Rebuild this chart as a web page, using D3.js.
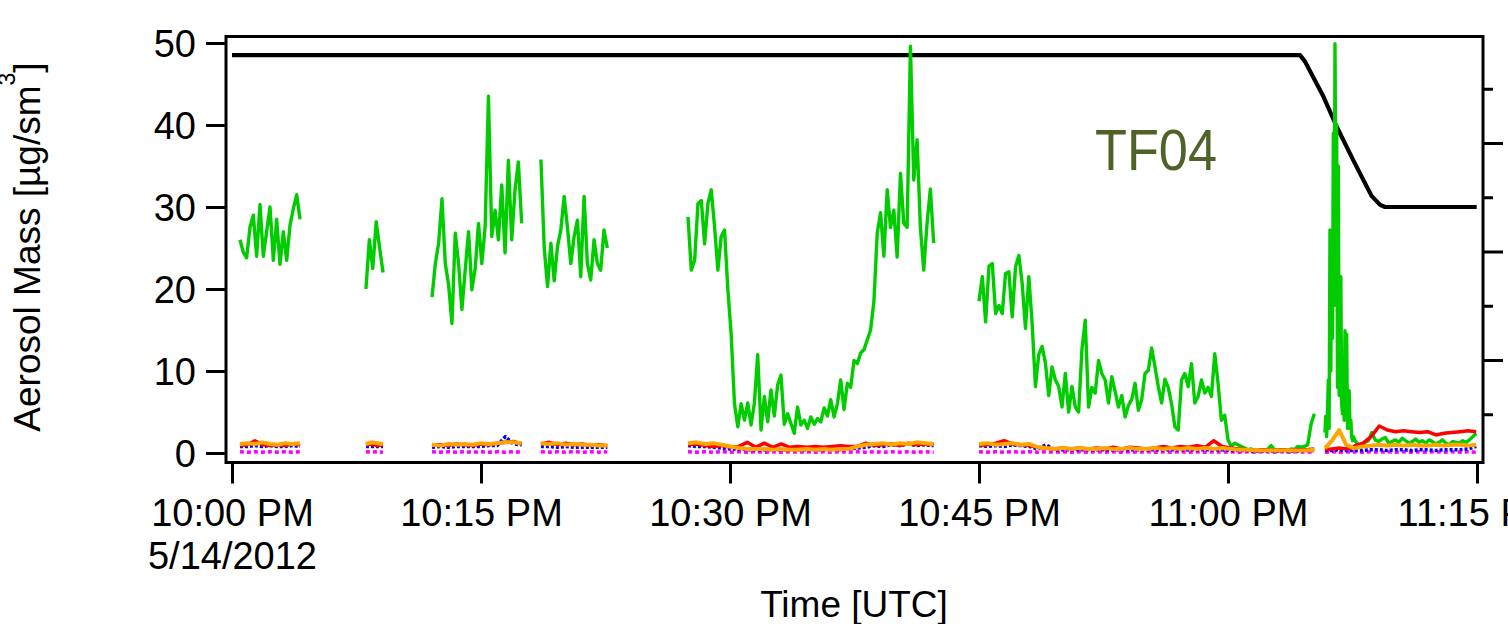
<!DOCTYPE html>
<html>
<head>
<meta charset="utf-8">
<script src="https://cdn.jsdelivr.net/npm/d3@7"></script>
<style>
  html, body { margin: 0; padding: 0; background: #fff; overflow: hidden; }
  svg { display: block; }
  text { font-family: "Liberation Sans", Arial, sans-serif; fill: #000; }
</style>
</head>
<body>
<svg id="chart" width="1508" height="624"></svg>
<script>
// Flight TF04, 14 May 2012. Times are minutes after 22:00 UTC.
// Each sampling run has a start and end time; the values of a run are
// evenly spaced between them.
const runStart = [0.48, 8.07, 12.05, 18.61, 27.47, 45.0, 65.84, 67.65];
const runEnd   = [4.10, 9.10, 17.45, 22.61, 42.27, 65.2, 67.55, 74.95];

// Organic aerosol mass [µg/sm³]
const greenRuns = [
  [26.0, 24.5, 23.8, 27.5, 29.0, 24.0, 30.3, 24.0, 27.0, 30.0, 23.5, 28.5, 23.0, 27.0, 23.5, 27.8, 29.8, 31.5, 28.5],
  [20.0, 26.0, 22.5, 28.2, 25.0, 22.0],
  [19.0, 23.1, 25.6, 31.0, 23.1, 20.5, 15.8, 26.8, 23.1, 17.5, 22.3, 27.0, 19.9, 22.5, 28.0, 23.1, 27.6, 43.5, 26.4, 29.6,
   26.0, 32.7, 24.4, 35.7, 26.0, 32.1, 35.5, 28.0],
  [35.8, 25.0, 20.3, 25.6, 21.0, 25.2, 27.2, 31.3, 27.5, 23.1, 26.4, 28.4, 21.5, 31.3, 23.1, 21.1, 26.0, 23.1, 22.3, 27.2, 25.0],
  [28.8, 22.3, 23.5, 30.4, 30.8, 25.5, 30.4, 32.1, 27.6, 22.3, 26.4, 27.2, 20.0, 14.5, 6.0, 3.2, 6.0, 4.0, 6.1, 3.4,
   6.1, 12.0, 2.8, 6.9, 3.8, 7.7, 4.5, 8.3, 9.5, 3.5, 4.8, 3.6, 2.4, 5.6, 3.4, 4.0, 3.0, 4.4, 3.5, 4.2,
   3.8, 5.5, 4.5, 6.5, 4.4, 6.0, 8.9, 5.3, 8.5, 8.0, 11.3, 10.9, 12.2, 12.6, 13.8, 15.0, 18.5, 26.8, 29.3, 24.0,
   32.1, 27.5, 29.6, 23.9, 34.1, 28.0, 27.5, 49.6, 33.3, 38.2, 27.5, 22.3, 28.0, 32.2, 25.6],
  [18.5, 21.5, 16.0, 22.8, 23.1, 17.0, 18.0, 17.0, 21.9, 22.1, 16.6, 22.7, 24.1, 20.7, 15.2, 21.5, 15.8, 8.1, 12.0, 13.0,
   11.0, 7.0, 10.5, 8.9, 8.1, 5.6, 9.7, 5.0, 8.1, 5.6, 5.0, 12.6, 16.2, 5.6, 8.0, 7.3, 11.3, 9.7, 8.9, 6.1,
   9.3, 7.5, 5.6, 7.0, 4.4, 5.8, 6.5, 8.5, 5.2, 6.5, 9.7, 10.1, 12.8, 10.5, 8.1, 6.1, 9.0, 8.0, 6.0, 3.2,
   2.8, 8.9, 9.7, 8.1, 10.9, 6.1, 6.9, 8.9, 7.3, 8.0, 6.9, 12.1, 8.5, 4.0, 4.6, 1.6, 0.8, 1.2, 1.0, 0.8,
   0.6, 0.4, 0.5, 0.3, 0.3, 0.4, 0.3, 0.5, 0.9, 0.4, 0.3, 0.3, 0.4, 0.3, 0.5, 0.4, 0.8, 0.7, 0.8, 1.0,
   3.5, 4.8],
  [2.5, 4.5, 2.0, 5.0, 8.9, 3.0, 27.2, 10.0, 26.5, 14.0, 39.0, 18.0, 49.9, 30.0, 40.0, 8.0, 35.0, 7.0, 10.8, 21.5,
   6.0, 4.8, 8.0, 4.0, 14.9, 5.0, 14.5, 3.0, 4.0, 7.6, 3.0, 4.0, 2.0, 1.5, 2.0],
  [1.5, 1.0, 0.9, 1.3, 1.5, 2.5, 1.6, 1.4, 1.7, 1.9, 1.2, 1.4, 1.6, 1.3, 1.8, 1.5, 1.2, 1.4, 1.7, 1.3,
   1.5, 1.2, 1.6, 1.4, 1.1, 1.3, 1.6, 1.2, 1.0, 1.4, 1.3, 1.2, 1.5, 1.3, 1.6, 2.0, 2.4]
];

// Sulfate
const redRuns = [
  [0.9, 1.0, 1.5, 1.0, 0.9, 1.0, 0.9, 1.1, 1.0],
  [1.0, 1.1, 0.9, 1.0],
  [0.9, 1.0, 0.9, 1.1, 1.0, 0.9, 1.1, 1.0, 1.2, 1.3, 1.4, 1.1],
  [1.1, 1.3, 1.0, 1.2, 1.0, 1.1, 0.9, 1.0, 0.9],
  [1.0, 1.1, 0.9, 0.8, 0.9, 0.7, 0.8, 1.3, 0.7, 1.2, 0.7, 1.1, 0.7, 0.8, 0.7, 0.8, 0.7, 0.8, 0.9, 0.8,
   0.8, 1.2, 0.9, 1.0, 1.1, 0.9, 1.2, 1.0, 1.1, 1.0],
  [0.9, 1.0, 1.2, 1.5, 1.1, 1.0, 0.9, 0.7, 0.6, 0.5, 0.6, 0.5, 0.6, 0.5, 0.6, 0.5, 0.7, 0.5, 0.7, 0.6,
   0.5, 0.6, 0.8, 0.6, 0.8, 0.7, 0.9, 0.7, 1.5, 0.8, 0.6, 0.5, 0.4, 0.3, 0.4, 0.3, 0.4, 0.3, 0.4, 0.4, 0.5],
  [0.4, 0.5, 0.6, 0.5, 0.7],
  [0.9, 1.2, 2.0, 3.3, 2.8, 2.6, 2.7, 2.6, 2.5, 2.6, 2.2, 2.4, 2.5, 2.6, 2.7, 2.6]
];

// Ammonium
const orangeRuns = [
  [1.1, 1.2, 1.1, 1.3, 1.1, 1.0, 1.2, 1.1, 1.2],
  [1.1, 1.3, 1.2, 1.1],
  [1.0, 0.9, 1.1, 1.0, 1.1, 1.0, 1.2, 1.1, 1.2, 1.3, 1.3, 1.2],
  [1.2, 1.1, 1.2, 1.0, 1.1, 1.0, 1.0, 0.9, 0.9],
  [1.2, 1.3, 1.1, 1.2, 1.0, 0.8, 0.6, 0.5, 0.5, 0.5, 0.4, 0.5, 0.4, 0.4, 0.5, 0.4, 0.5, 0.4, 0.5, 0.5,
   0.8, 1.0, 1.1, 1.2, 1.0, 1.2, 1.1, 1.3, 1.2, 1.1],
  [1.1, 1.2, 1.0, 1.1, 1.2, 1.0, 1.1, 0.7, 0.6, 0.5, 0.6, 0.5, 0.6, 0.5, 0.5, 0.6, 0.5, 0.5, 0.6, 0.5,
   0.5, 0.6, 0.5, 0.6, 0.5, 0.6, 0.5, 0.6, 0.5, 0.6, 0.5, 0.4, 0.4, 0.3, 0.3, 0.3, 0.3, 0.3, 0.3, 0.3, 0.4],
  [0.6, 1.5, 2.8, 1.0, 0.6],
  [0.6, 0.8, 0.9, 1.0, 0.9, 1.0, 0.9, 1.0, 0.9, 0.9, 1.0, 0.9, 1.0, 1.0, 0.9, 1.0]
];

// Nitrate
const blueRuns = [
  [0.8, 0.8, 0.9, 0.8, 0.9, 0.8, 0.8, 0.9, 0.8],
  [0.8, 0.8, 0.8, 0.8],
  [0.7, 0.8, 0.7, 0.8, 0.8, 0.8, 0.8, 0.9, 0.9, 2.0, 1.1, 1.0],
  [0.8, 0.8, 0.7, 0.8, 0.7, 0.7, 0.7, 0.7, 0.7],
  [0.9, 0.8, 0.8, 0.7, 0.6, 0.5, 0.5, 0.4, 0.4, 0.4, 0.4, 0.4, 0.4, 0.4, 0.4, 0.4, 0.4, 0.5, 0.4, 0.5,
   0.6, 0.7, 0.9, 0.8, 1.0, 0.9, 1.1, 0.9, 1.0, 0.9],
  [0.9, 0.8, 0.9, 0.8, 1.0, 0.9, 0.8, 0.5, 1.0, 0.4, 0.4, 0.4, 0.4, 0.4, 0.4, 0.4, 0.4, 0.4, 0.4, 0.4,
   0.4, 0.4, 0.4, 0.4, 0.4, 0.4, 0.4, 0.4, 0.4, 0.4, 0.3, 0.3, 0.3, 0.2, 0.2, 0.2, 0.2, 0.2, 0.2, 0.3, 0.3],
  [0.3, 0.3, 0.4, 0.3, 0.3],
  [0.3, 0.3, 0.4, 0.4, 0.3, 0.4, 0.4, 0.3, 0.4, 0.4, 0.3, 0.4, 0.4, 0.4, 0.5, 0.8]
];

// Chloride
const magentaRuns = [
  [0.15, 0.1, 0.15, 0.1, 0.15, 0.1, 0.15, 0.1, 0.15],
  [0.15, 0.1, 0.15, 0.1],
  [0.15, 0.1, 0.15, 0.1, 0.15, 0.1, 0.15, 0.1, 0.15, 0.1, 0.15, 0.1],
  [0.15, 0.1, 0.15, 0.1, 0.15, 0.1, 0.15, 0.1, 0.15],
  [0.15, 0.1, 0.15, 0.1, 0.15, 0.1, 0.15, 0.1, 0.15, 0.1, 0.15, 0.1, 0.15, 0.1, 0.15,
   0.1, 0.15, 0.1, 0.15, 0.1, 0.15, 0.1, 0.15, 0.1, 0.15, 0.1, 0.15, 0.1, 0.15, 0.1],
  [0.15, 0.1, 0.15, 0.1, 0.15, 0.1, 0.15, 0.1, 0.15, 0.1, 0.15, 0.1, 0.15, 0.1, 0.15, 0.1, 0.15, 0.1, 0.15, 0.1,
   0.15, 0.1, 0.15, 0.1, 0.15, 0.1, 0.15, 0.1, 0.15, 0.1, 0.15, 0.1, 0.15, 0.1, 0.15, 0.1, 0.15, 0.1, 0.15, 0.1, 0.15],
  [0.1, 0.15, 0.1, 0.15, 0.1],
  [0.15, 0.1, 0.15, 0.1, 0.15, 0.1, 0.15, 0.1, 0.15, 0.1, 0.15, 0.1, 0.15, 0.1, 0.15, 0.1]
];

// Aircraft altitude [km] (right axis)
const altMinutes = [0, 64.34, 64.64, 65.74, 66.55, 67.55, 68.35, 68.66, 69.16, 69.46, 74.98];
const altKm      = [3.81, 3.81, 3.75, 3.43, 3.15, 2.84, 2.60, 2.51, 2.43, 2.41, 2.41];

const massTicks = [0, 10, 20, 30, 40, 50];
const timeTickMinutes = [0, 15, 30, 45, 60, 75];
const altMajorTicks = [1, 2, 3];
const altMinorTicks = [0.5, 1.5, 2.5, 3.5];

// ---------------------------------------------------------------------------
const baseTime = new Date(2012, 4, 14, 22, 0, 0);
const toDate = m => new Date(baseTime.getTime() + m * 60000);

const plot = { left: 226, right: 1483, top: 36.5, bottom: 462.5 };

const x = d3.scaleTime()
  .domain([toDate(-0.36), toDate(75.36)])
  .range([plot.left, plot.right]);
const y = d3.scaleLinear().domain([0, 50]).range([453, 43]);
const yAlt = d3.scaleLinear().domain([0, 4]).range([468.5, 34.5]);

// expand the runs into points, leaving a break between separate runs
function expandRuns(runs) {
  const pts = [];
  runs.forEach((vals, k) => {
    if (k > 0 && runStart[k] - runEnd[k - 1] > 0.3) pts.push(null);
    const n = vals.length;
    const step = n > 1 ? (runEnd[k] - runStart[k]) / (n - 1) : 0;
    vals.forEach((v, i) => pts.push({ t: toDate(runStart[k] + i * step), v }));
  });
  return pts;
}

const svg = d3.select("#chart");

svg.append("defs").append("clipPath").attr("id", "plotClip")
  .append("rect")
  .attr("x", plot.left).attr("y", plot.top)
  .attr("width", plot.right - plot.left).attr("height", plot.bottom - plot.top);

const dataLayer = svg.append("g").attr("clip-path", "url(#plotClip)");

// altitude trace
const altLine = d3.line()
  .x((d, i) => x(toDate(altMinutes[i])))
  .y(d => yAlt(d));
dataLayer.append("path")
  .attr("d", altLine(altKm))
  .attr("fill", "none")
  .attr("stroke", "#000")
  .attr("stroke-width", 4.2)
  .attr("stroke-linejoin", "round");

const massLine = d3.line()
  .defined(d => d !== null)
  .x(d => x(d.t))
  .y(d => y(d.v));

const series = [
  { runs: greenRuns,   color: "#00CC00", width: 3.4, dash: null },
  { runs: magentaRuns, color: "#FF00FF", width: 3.5, dash: "4,3" },
  { runs: blueRuns,    color: "#0000FF", width: 3.5, dash: "3,2" },
  { runs: redRuns,     color: "#FF0000", width: 3.5, dash: null },
  { runs: orangeRuns,  color: "#FFA500", width: 4,   dash: null }
];

series.forEach(s => {
  dataLayer.append("path")
    .attr("d", massLine(expandRuns(s.runs)))
    .attr("fill", "none")
    .attr("stroke", s.color)
    .attr("stroke-width", s.width)
    .attr("stroke-linejoin", "round")
    .attr("stroke-dasharray", s.dash);
});

// plot frame
svg.append("rect")
  .attr("x", plot.left).attr("y", plot.top)
  .attr("width", plot.right - plot.left).attr("height", plot.bottom - plot.top)
  .attr("fill", "none").attr("stroke", "#000").attr("stroke-width", 3);

// left axis
const leftAxis = svg.append("g")
  .attr("transform", `translate(${plot.left},0)`)
  .call(d3.axisLeft(y).tickValues(massTicks).tickSize(20).tickPadding(10));
leftAxis.select(".domain").remove();
leftAxis.selectAll(".tick line").attr("stroke-width", 3);
leftAxis.selectAll(".tick text")
  .attr("font-size", 38).attr("font-family", '"Liberation Sans", Arial, sans-serif')
  .attr("dy", "0.35em");

// bottom axis
const timeFmt = d3.timeFormat("%-I:%M %p");
const bottomAxis = svg.append("g")
  .attr("transform", `translate(0,${plot.bottom})`)
  .call(d3.axisBottom(x)
    .tickValues(timeTickMinutes.map(toDate))
    .tickSize(21).tickPadding(16)
    .tickFormat(timeFmt));
bottomAxis.select(".domain").remove();
bottomAxis.selectAll(".tick line").attr("stroke-width", 3);
bottomAxis.selectAll(".tick text")
  .attr("font-size", 38).attr("font-family", '"Liberation Sans", Arial, sans-serif');
bottomAxis.selectAll(".tick text")
  .filter((d, i) => i === 0)
  .append("tspan")
  .attr("x", 0).attr("dy", "1.13em")
  .text(d3.timeFormat("%-m/%-d/%Y")(baseTime));

// right (altitude) axis, unlabelled
const rightMajor = svg.append("g")
  .attr("transform", `translate(${plot.right},0)`)
  .call(d3.axisRight(yAlt).tickValues(altMajorTicks).tickSize(20).tickFormat(""));
rightMajor.select(".domain").remove();
rightMajor.selectAll(".tick line").attr("stroke-width", 3);
const rightMinor = svg.append("g")
  .attr("transform", `translate(${plot.right},0)`)
  .call(d3.axisRight(yAlt).tickValues(altMinorTicks).tickSize(10).tickFormat(""));
rightMinor.select(".domain").remove();
rightMinor.selectAll(".tick line").attr("stroke-width", 3);

// axis titles
const yTitle = svg.append("text")
  .attr("transform", "rotate(-90)")
  .attr("x", -247).attr("y", 40)
  .attr("text-anchor", "middle")
  .attr("font-size", 37);
yTitle.append("tspan").text("Aerosol Mass [µg/sm");
yTitle.append("tspan").attr("font-size", 23).attr("dy", "-1.1em").text("3");
yTitle.append("tspan").attr("dy", "0.69em").text("]");

svg.append("text")
  .attr("x", 854).attr("y", 617)
  .attr("text-anchor", "middle")
  .attr("font-size", 37)
  .text("Time [UTC]");

// flight label
svg.append("text")
  .attr("x", 1095).attr("y", 170)
  .attr("font-family", '"Open Sans", "Noto Sans", sans-serif')
  .attr("font-size", 58)
  .attr("textLength", 122)
  .attr("lengthAdjust", "spacingAndGlyphs")
  .style("fill", "#4F6228")
  .text("TF04");
</script>
</body>
</html>
